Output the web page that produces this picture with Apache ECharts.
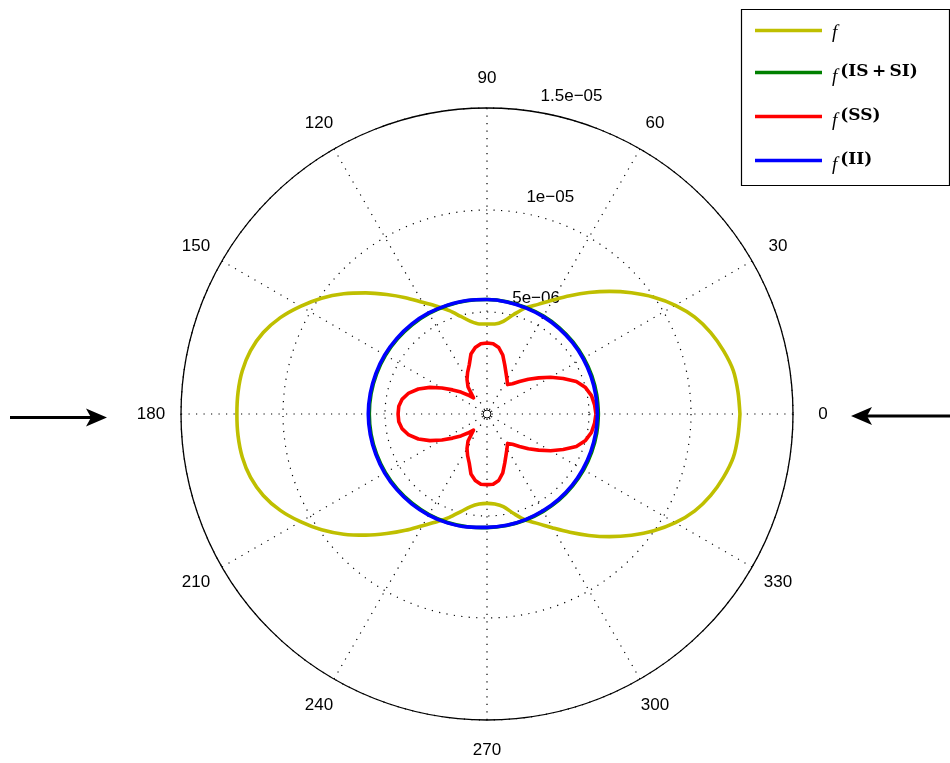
<!DOCTYPE html>
<html><head><meta charset="utf-8">
<script src="https://cdn.jsdelivr.net/npm/echarts@6/dist/echarts.min.js"></script>
<style>html,body{margin:0;padding:0;background:#fff}#c{width:950px;height:763px}</style>
</head><body><div id="c"></div>
<script>
// values below are in units of 1e-6
const SCALE = 1e-6;
const angles5 = [0,5,10,15,20,25,30,35,40,45,50,55,60,65,70,75,80,85,90,95,100,105,110,115,120,125,130,135,140,145,150,155,160,165,170,175,180,
  185,190,195,200,205,210,215,220,225,230,235,240,245,250,255,260,265,270,275,280,285,290,295,300,305,310,315,320,325,330,335,340,345,350,355,360];
const angles10 = [0,10,20,30,40,50,60,70,80,90,100,110,120,130,140,150,160,170,180,
  190,200,210,220,230,240,250,260,270,280,290,300,310,320,330,340,350,360];

const fTotal = [12.40,12.35,12.26,12.00,11.67,11.24,10.66,9.98,9.24,8.50,7.77,7.08,6.45,5.93,5.54,5.05,4.61,4.43,4.41,4.43,4.61,4.95,5.39,5.83,6.32,6.96,7.65,8.40,9.17,9.90,10.56,11.18,11.67,12.00,12.18,12.25,12.26,
  12.25,12.18,12.00,11.67,11.18,10.56,9.90,9.17,8.40,7.65,6.96,6.32,5.83,5.39,4.95,4.61,4.43,4.38,4.43,4.61,5.05,5.54,5.93,6.45,7.08,7.77,8.50,9.24,9.98,10.66,11.24,11.67,12.00,12.26,12.35,12.40];
const fSS = [5.34,5.29,5.20,5.00,4.66,4.12,3.60,3.09,2.65,2.25,1.94,1.76,1.96,2.21,2.55,2.99,3.31,3.46,3.48,3.46,3.31,3.04,2.55,2.25,1.96,1.62,1.03,1.32,1.67,2.06,2.55,3.09,3.58,3.97,4.22,4.34,4.36,
  4.34,4.22,3.97,3.58,3.09,2.55,2.06,1.67,1.32,1.03,1.62,1.96,2.25,2.55,3.04,3.31,3.46,3.46,3.46,3.31,2.99,2.55,2.21,1.96,1.76,1.94,2.25,2.65,3.09,3.60,4.12,4.66,5.00,5.20,5.29,5.34];
const fII = [5.41,5.41,5.42,5.44,5.46,5.48,5.51,5.54,5.58,5.61,5.65,5.68,5.72,5.75,5.77,5.79,5.80,5.81,5.82,
  5.81,5.80,5.79,5.77,5.75,5.72,5.68,5.62,5.56,5.54,5.51,5.48,5.46,5.44,5.42,5.41,5.41,5.41];
const fISSI = [5.46,5.46,5.47,5.48,5.50,5.52,5.54,5.56,5.59,5.61,5.64,5.66,5.69,5.71,5.73,5.75,5.76,5.77,5.77,
  5.77,5.76,5.75,5.73,5.71,5.69,5.66,5.61,5.57,5.55,5.53,5.51,5.50,5.48,5.47,5.46,5.46,5.46];

const seriesNames = ['f', 'f(IS+SI)', 'f(SS)', 'f(II)'];
const legendSup = ['', '(IS\u2009+\u2009SI)', '(SS)', '(II)'];
const seriesColors = ['#bfbf00', '#008000', '#ff0000', '#0000ff'];
const angleTicks = [0,30,60,90,120,150,180,210,240,270,300,330];
const angleTickLabels = ['0','30','60','90','120','150','180','210','240','270','300','330'];
const radialTicks = [5e-6, 1e-5, 1.5e-5];
const radialTickLabels = ['5e\u221206', '1e\u221205', '1.5e\u221205'];
const radialLabelAngle = 82;

function pairs(vals, angs) { return vals.map((v, i) => [v * SCALE, angs[i]]); }

const chart = echarts.init(document.getElementById('c'), null, {renderer: 'canvas'});
const dotted = {color: '#000', width: 1.2, type: [1.2, 6.3]};
const font = 'Liberation Sans, Arial, Helvetica, sans-serif';

const lineSeries = [
  {vals: fTotal, angs: angles5, smooth: 0.3},
  {vals: fISSI, angs: angles10, smooth: 0.4},
  {vals: fSS, angs: angles5, smooth: false},
  {vals: fII, angs: angles10, smooth: 0.4}
].map((s, i) => ({
  type: 'line', name: seriesNames[i], coordinateSystem: 'polar', polarIndex: 0,
  data: pairs(s.vals, s.angs), smooth: s.smooth, symbol: 'none', showSymbol: false,
  lineStyle: {color: seriesColors[i], width: 3.6, join: 'round'}, itemStyle: {color: seriesColors[i]},
  z: 3 + i, animation: false
}));

const textLabel = (fmt) => ({show: true, color: '#000', opacity: 1, fontSize: 17, fontFamily: font, formatter: fmt});
const hiddenItem = {color: '#fff', opacity: 1};

chart.setOption({
  animation: false,
  backgroundColor: '#fff',
  polar: [
    {center: [487, 414], radius: 306},
    {center: [487, 414], radius: 336}
  ],
  angleAxis: [{
    polarIndex: 0,
    type: 'value', min: 0, max: 360, interval: 30, startAngle: 0, clockwise: false,
    axisLine: {show: true, lineStyle: {color: '#000', width: 1.3}},
    axisTick: {show: false},
    axisLabel: {show: false},
    splitLine: {show: true, lineStyle: dotted}
  }, {
    polarIndex: 1,
    type: 'value', min: 0, max: 360, interval: 30, startAngle: 0, clockwise: false,
    show: false
  }],
  radiusAxis: [{
    polarIndex: 0,
    type: 'value', min: 0, max: 1.5e-5, interval: 5e-6,
    axisLine: {show: false}, axisTick: {show: false}, axisLabel: {show: false},
    splitLine: {show: true, lineStyle: dotted}
  }, {
    polarIndex: 1, type: 'value', min: 0, max: 1, show: false
  }],
  legend: {
    show: true, orient: 'vertical', left: 755, top: 19, padding: 0, z: 10,
    data: seriesNames, icon: 'rect', itemWidth: 67, itemHeight: 3.5, itemGap: 17,
    selectedMode: false, itemStyle: {borderWidth: 0},
    formatter: name => {
      const i = seriesNames.indexOf(name);
      return i === 0 ? '{f0|f}' : '{f|f}{s|' + legendSup[i] + '}';
    },
    textStyle: {
      color: '#000',
      rich: {
        f0: {fontFamily: 'Liberation Serif', fontStyle: 'italic', fontSize: 19, lineHeight: 18, padding: [4, 0, 0, 5], color: '#000'},
        f: {fontFamily: 'Liberation Serif', fontStyle: 'italic', fontSize: 19, lineHeight: 18, padding: [8, 0, 0, 5], color: '#000'},
        s: {fontFamily: 'DejaVu Serif', fontWeight: 'bold', fontSize: 17, lineHeight: 18, padding: [3, 0, 5, 3], color: '#000'}
      }
    }
  },
  graphic: [
    {type: 'rect', z: 1, shape: {x: 741.5, y: 9.5, width: 208, height: 176}, style: {fill: '#fff', stroke: '#000', lineWidth: 1.2}},
    {type: 'line', z: 1, shape: {x1: 10, y1: 417.5, x2: 92, y2: 417.5}, style: {stroke: '#000', lineWidth: 3}},
    {type: 'polygon', z: 1, shape: {points: [[107, 417.5], [86, 408.5], [91, 417.5], [86, 426.5]]}, style: {fill: '#000'}},
    {type: 'line', z: 1, shape: {x1: 867, y1: 416, x2: 950, y2: 416}, style: {stroke: '#000', lineWidth: 3}},
    {type: 'polygon', z: 1, shape: {points: [[851, 416], [872, 407], [867, 416], [872, 425]]}, style: {fill: '#000'}}
  ],
  series: lineSeries.concat([
    {
      type: 'scatter', name: 'angleLabels', coordinateSystem: 'polar', polarIndex: 1, silent: true,
      data: angleTicks.map(a => [1, a]), symbol: 'circle', symbolSize: 0.01,
      itemStyle: hiddenItem, z: 2,
      label: Object.assign(textLabel(p => angleTickLabels[p.dataIndex]), {position: 'inside', align: 'center', verticalAlign: 'middle'})
    },
    {
      type: 'scatter', name: 'radialLabels', coordinateSystem: 'polar', polarIndex: 0, silent: true,
      data: radialTicks.map(r => [r, radialLabelAngle]), symbol: 'circle', symbolSize: 0.01,
      itemStyle: hiddenItem, z: 2,
      label: Object.assign(textLabel(p => radialTickLabels[p.dataIndex]), {position: [11, -15], align: 'left', verticalAlign: 'middle'})
    },
    {
      type: 'scatter', name: 'origin', coordinateSystem: 'polar', polarIndex: 0, silent: true,
      data: [[0, 0]], symbol: 'circle', symbolSize: 8,
      itemStyle: {color: 'rgba(0,0,0,0)', borderColor: '#000', borderWidth: 1, opacity: 1}, z: 2
    }
  ])
});
</script>
</body></html>
